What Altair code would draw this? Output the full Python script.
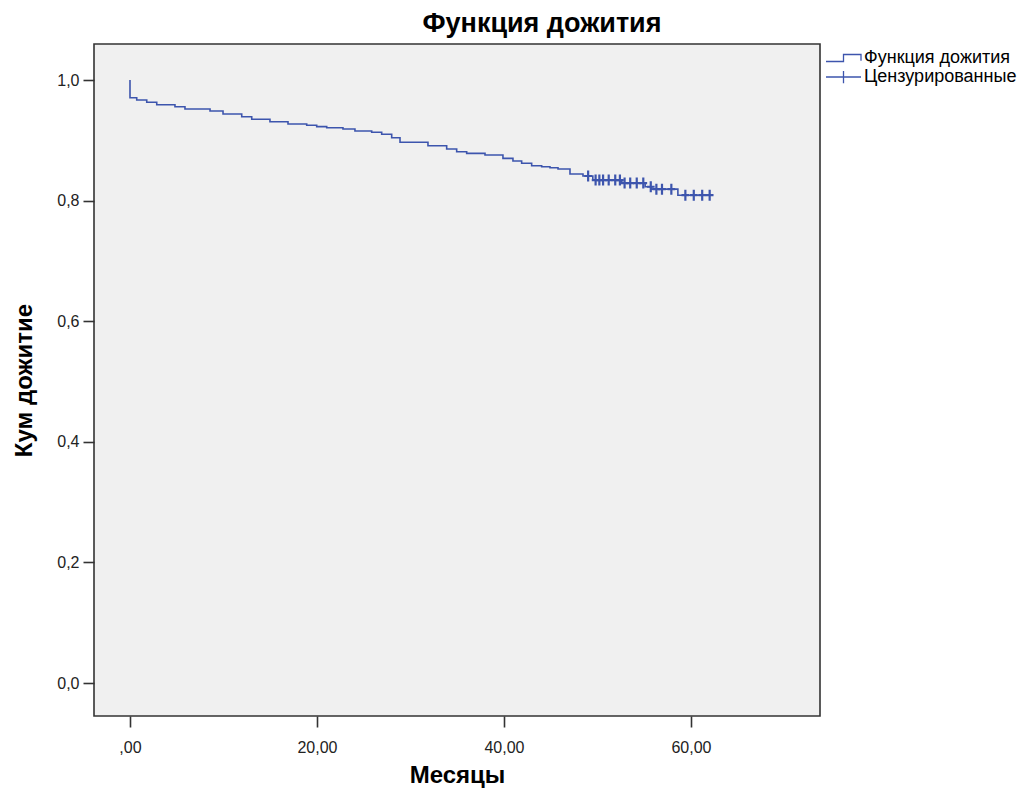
import altair as alt
import pandas as pd

# Kaplan-Meier step curve
step_time = [0.0, 0.0, 0.72, 1.79, 2.86, 4.81, 5.88, 8.56, 9.95, 11.95, 13.02,
             14.97, 16.9, 18.9, 19.97, 21.04, 22.78, 24.06, 25.85, 26.92, 27.99,
             28.88, 31.87, 33.87, 34.94, 36.01, 37.97, 39.89, 40.96, 41.89, 42.96,
             44.03, 44.92, 45.78, 47.06, 48.45, 49.5, 52.6, 55.1, 55.8, 58.6, 62.0]
step_surv = [1.0, 0.9706, 0.9668, 0.963, 0.959, 0.9557, 0.9519, 0.9486, 0.9436,
             0.9391, 0.9348, 0.9308, 0.927, 0.9249, 0.9226, 0.9209, 0.9187, 0.9154,
             0.9133, 0.91, 0.9043, 0.8967, 0.891, 0.8856, 0.8811, 0.8784, 0.8756,
             0.8701, 0.8657, 0.8619, 0.8579, 0.8562, 0.8546, 0.8524, 0.8441, 0.8408,
             0.834, 0.829, 0.823, 0.819, 0.809, 0.809]

# Censored observations
cens_time = [49.0, 49.8, 50.2, 50.6, 51.2, 51.9, 52.4, 52.9, 53.5, 54.2, 54.9,
             55.7, 56.3, 56.9, 57.9, 59.4, 60.3, 61.2, 62.0]
cens_surv = [0.8408, 0.834, 0.834, 0.834, 0.834, 0.834, 0.834, 0.829, 0.829, 0.829,
             0.829, 0.823, 0.819, 0.819, 0.819, 0.809, 0.809, 0.809, 0.809]

x_ticks = [0, 20, 40, 60]
y_ticks = [0.0, 0.2, 0.4, 0.6, 0.8, 1.0]

BLUE = "#3d55ad"
FONT = "Liberation Sans"

curve = pd.DataFrame({"t": step_time, "s": step_surv, "series": "Функция дожития"})
cens = pd.DataFrame({"t": cens_time, "s": cens_surv, "kind": "Цензурированные"})

xs = alt.Scale(domain=[-3.85, 73.8], nice=False, zero=False)
ys = alt.Scale(domain=[-0.0547, 1.0597], nice=False, zero=False)

x_axis = alt.Axis(values=x_ticks, title="Месяцы", domain=False, grid=False,
                  labelExpr="datum.value == 0 ? ',00' : replace(format(datum.value, '.2f'), '.', ',')")
y_axis = alt.Axis(values=y_ticks, title="Кум дожитие", domain=False, grid=False,
                  labelExpr="replace(format(datum.value, '.1f'), '.', ',')")

step_path = "M-1,0.2H0V-0.2H1V0.15"
cross_legend = "M-1,0H1M0,-0.35V0.35"
cross_data = "M-0.7,0H0.7M0,-1V1"

line = alt.Chart(curve).mark_line(interpolate="step-after", strokeWidth=1.6).encode(
    x=alt.X("t:Q", scale=xs, axis=x_axis),
    y=alt.Y("s:Q", scale=ys, axis=y_axis),
    color=alt.Color("series:N",
                    scale=alt.Scale(domain=["Функция дожития"], range=[BLUE]),
                    legend=alt.Legend(title=None, orient="none", legendX=731, legendY=-4.5,
                                      symbolType=step_path, symbolSize=1225,
                                      symbolStrokeWidth=1.3, symbolFillColor="transparent",
                                      labelFontSize=18, labelFont=FONT, labelColor="#000",
                                      labelOffset=2, padding=0)),
)

points = alt.Chart(cens).mark_point(shape=cross_data, size=121, filled=False,
                                    color=BLUE, strokeWidth=2.2, opacity=1).encode(
    x=alt.X("t:Q", scale=xs),
    y=alt.Y("s:Q", scale=ys),
    opacity=alt.Opacity("kind:N",
                        scale=alt.Scale(domain=["Цензурированные"], range=[1]),
                        legend=alt.Legend(title=None, orient="none", legendX=731, legendY=14.5,
                                          symbolType=cross_legend, symbolSize=1225,
                                          symbolStrokeColor=BLUE, symbolStrokeWidth=1.3,
                                          symbolFillColor="transparent",
                                          labelFontSize=18, labelFont=FONT, labelColor="#000",
                                          labelOffset=2, padding=0)),
)

chart = alt.layer(line, points).properties(
    width=726, height=672,
    background="white",
    title=alt.TitleParams("Функция дожития", fontSize=27, fontWeight="bold", font=FONT,
                          color="#000", anchor="middle", dx=85, offset=2),
    autosize=alt.AutoSizeParams(type="none"),
    padding={"left": 94, "top": 44, "right": 211, "bottom": 73},
).configure_view(
    fill="#F0F0F0", stroke="#333", strokeWidth=1.6
).configure_axis(
    tickSize=11, tickWidth=1.6, tickColor="#333",
    labelFont=FONT, labelFontSize=16, labelColor="#222",
    titleFont=FONT, titleFontSize=24, titleFontWeight="bold", titleColor="#000",
).configure_axisX(
    labelPadding=12, titlePadding=8, titleFontSize=24
).configure_axisY(
    labelPadding=4, titlePadding=20
)

chart.save("out.html", embed_options={"renderer": "svg", "actions": False})
